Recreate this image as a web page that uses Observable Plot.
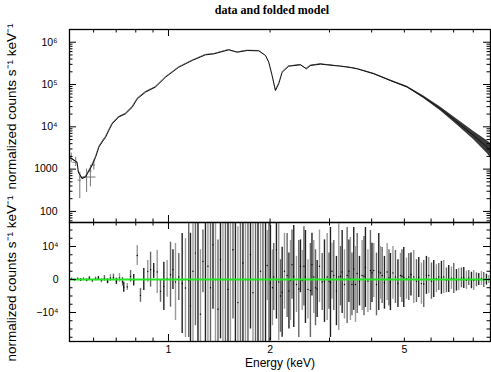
<!DOCTYPE html>
<html><head><meta charset="utf-8">
<script src="https://cdn.jsdelivr.net/npm/d3@7"></script>
<script src="https://cdn.jsdelivr.net/npm/@observablehq/plot@0.6"></script>
<style>
body{margin:0;background:#fff;}
#chart{width:491px;height:372px;position:relative;overflow:hidden;}
#chart svg{display:block;overflow:visible;}
</style></head><body><div id="chart"></div>
<script>
// ---------- data: top panel (folded spectrum) ----------
const modelE = [0.509,0.516,0.536,0.541,0.555,0.568,0.579,0.594,0.608,0.622,0.636,0.651,0.665,0.681,0.712,0.746,0.781,0.808,0.855,0.915,0.980,1.073,1.176,1.287,1.362,1.509,1.598,1.711,1.852,1.939,1.983,2.029,2.075,2.122,2.172,2.272,2.461,2.564,2.634,2.821,3.089,3.233,3.461,3.624,4.058,4.549,5.097,5.708,6.396,7.168,8.030,8.800,9.0];
const modelFlux = [1800,1780,1450,850,600,650,850,1230,1900,3300,4360,5640,8100,11700,17000,20300,29000,45700,66000,87000,149000,257000,370000,503000,530000,660000,580000,636000,626000,485000,337000,163000,72000,104000,195000,271000,292000,235000,281000,303000,281000,271000,252000,235000,179000,124000,87000,50000,26700,12900,6200,3300,2750];
// half-width of the noisy data band (dex)
const bandDex = [0.015,0.015,0.015,0.015,0.015,0.015,0.015,0.015,0.015,0.012,0.012,0.012,0.012,0.01,0.01,0.01,0.01,0.008,0.008,0.008,0.006,0.006,0.006,0.006,0.006,0.006,0.006,0.006,0.006,0.008,0.008,0.01,0.012,0.01,0.008,0.008,0.008,0.008,0.008,0.008,0.008,0.008,0.01,0.01,0.012,0.014,0.018,0.028,0.045,0.07,0.1,0.15,0.17];
// low-energy data crosses
const crossE  = [0.515,0.531,0.546,0.572,0.587,0.601];
const crossE1 = [0.509,0.521,0.540,0.545,0.580,0.594];
const crossE2 = [0.521,0.540,0.552,0.610,0.594,0.608];
const crossV  = [1800,1450,550,650,900,1250];
const crossLo = [1420,1150,200,280,380,950];
const crossHi = [2400,1900,850,1000,1230,1600];

// ---------- data: bottom panel (residual error bars) ----------
const resE = [0.516,0.527,0.538,0.549,0.560,0.572,0.583,0.595,0.608,0.620,0.633,0.646,0.660,0.673,0.687,0.701,0.716,0.731,
0.737,0.755,0.772,0.789,0.808,0.826,0.845,0.868,0.885,0.904,0.926,0.947,0.969,0.991,1.014,1.031,1.049,1.073,1.098,1.123,1.148,
1.162,1.182,1.202,1.223,1.244,1.265,1.287,1.309,1.332,1.355,1.378,1.402,1.426,1.450,1.475,1.501,1.526,1.553,1.579,1.606,1.634,1.662,1.691,1.720,1.750,1.780,1.811,1.842,1.874,1.905,1.939,
1.961,1.985,2.005,2.033,2.051,2.089,2.122,2.147,2.172,2.207,2.247,2.275,2.299,2.323,2.351,2.395,2.433,2.461,2.490,2.520,2.546,2.590,2.634,2.662,2.695,2.727,2.758,2.802,2.854,2.899,2.953,2.990,
3.020,3.051,3.089,3.146,3.196,3.233,3.271,3.323,3.384,3.426,3.461,3.497,3.540,3.582,3.624,3.681,3.749,3.796,3.834,3.900,3.967,4.009,4.058,4.134,4.199,4.248,4.297,4.365,4.446,4.501,4.547,4.626,4.705,4.786,4.869,4.919,4.980,
5.073,5.153,5.231,5.332,5.431,5.516,5.618,5.707,5.813,5.906,6.016,6.110,6.223,6.322,6.439,6.541,6.663,6.768,6.894,7.004,7.134,7.247,7.382,7.499,7.638,7.759,7.903,8.028,8.177,8.306,8.461,8.595,8.755,8.894];
const resLo = [-300,-500,-200,-600,-400,-700,-300,-900,-400,-200,-1000,-500,-1300,-600,-300,-1500,-800,-2000,
-3850,-3300,-820,-2000,4240,-6900,-3300,-820,-2330,300,-4240,-6900,-9390,-5360,-8390,-3000,-12400,-6360,-16400,-17600,-17600,
-30000,-25000,-14000,-30000,-30000,-4000,-30000,-22000,-30000,-9000,-30000,-30000,-18000,-30000,-30000,-26000,-30000,-12000,-30000,-30000,-30000,-20000,-30000,-30000,-15000,-30000,-30000,-30000,-25000,-30000,-30000,
-6360,-30000,-18480,-14000,-9390,-12000,-18480,-16000,-17480,-9000,-11500,-15000,-12420,-6000,-14540,-10000,-17570,-4000,-9390,-8000,-13330,-12000,-17570,-5000,-10300,-14000,-11500,-7000,-9390,-13000,-12420,-9000,
-17570,-6000,-9390,-14000,-15450,-8000,-10300,-12000,-13330,-7000,-12420,-11000,-9390,-13000,-10300,-8000,-9390,-11000,-8480,-10000,-9390,-7000,-5450,-11000,-9390,-6000,-7270,-9000,-6360,-8000,-9390,-6000,-7270,-8500,-5450,-7000,-8480,
-6000,-6360,-5000,-7270,-7000,-5450,-7500,-8480,-4500,-4240,-6000,-5450,-4000,-3330,-4500,-4240,-4000,-3940,-3000,-4240,-3500,-3330,-2500,-2730,-3000,-1820,-2800,-3330,-2200,-1820,-1800,-2420,-1700,-1210];
const resHi = [400,200,500,300,600,200,800,100,700,900,300,1200,200,1500,1600,400,1800,600,
-820,-1200,2700,1500,10300,-2700,3300,5760,8270,4850,8790,-300,5240,5760,11300,9000,10900,7880,13900,12400,17000,
14000,30000,30000,30000,9000,15000,30000,30000,25000,30000,30000,12000,30000,30000,30000,20000,30000,30000,30000,16000,30000,30000,30000,30000,30000,22000,30000,30000,30000,30000,30000,
14850,30000,16360,9000,10910,30000,16970,6000,9790,14000,13940,8000,11820,15000,16360,7000,11820,12000,8790,16000,14850,6000,10910,14000,11820,9000,5760,15000,7880,12000,13940,8000,
15760,11000,11820,7000,16970,10000,14850,9000,15760,12000,12730,8000,15760,10000,13940,7000,11820,13000,15760,9000,14850,11000,10910,8000,13940,10000,9700,7000,10910,9000,7880,10000,8790,6000,7880,9000,9700,
6500,7880,8000,8790,6000,6670,5000,5760,7000,6670,5000,5760,4500,4850,5500,5760,3500,4240,3800,4850,3000,3330,3500,3640,2500,2730,2200,2730,2000,1820,2400,2120,1600,1210];

// ---------- axes / ticks ----------
const xDomain = [0.509, 9.0];
const xMajor = [1];
const xMinor = [0.6,0.7,0.8,0.9,2,3,4,5,6,7,8,9];
const xLabels = [1,2,5];
const yTopDomain = [54.7, 2.0e6];
const yTopMajor = [100,1000,1e4,1e5,1e6];
const yTopMinor = [60,70,80,90,200,300,400,500,600,700,800,900,2000,3000,4000,5000,6000,7000,8000,9000,2e4,3e4,4e4,5e4,6e4,7e4,8e4,9e4,2e5,3e5,4e5,5e5,6e5,7e5,8e5,9e5,2e6];
const yBotDomain = [-18790, 17270];
const yBotMajor = [-1e4,0,1e4];
const yBotMinor = [-17500,-15000,-12500,-7500,-5000,-2500,2500,5000,7500,12500,15000];

const title = "data and folded model";
const yLabel = "normalized counts s\u207B\u00B9 keV\u207B\u00B9";
const xLabel = "Energy (keV)";

// ---------- layout ----------
const W = 491, ML = 69, MR = 1;
const topH = 222, topMT = 29;
const botH = 150, botMB = 31;
const FW = W - ML - MR, FH1 = topH - topMT, FH2 = botH - botMB;
const MAJ = 7, MIN = 3.5;
const font = "'Liberation Sans', Arial, Helvetica, sans-serif";

function edgeTicks(xs, ys, fh) {
  const m = [];
  const add = (arr, len) => {
    m.push(Plot.tickX(arr, {x: d => d, insetBottom: fh - len, stroke: "#000", strokeWidth: 1}));
    m.push(Plot.tickX(arr, {x: d => d, insetTop: fh - len, stroke: "#000", strokeWidth: 1}));
  };
  add(xs[0], MAJ); add(xs[1], MIN);
  const addY = (arr, len) => {
    m.push(Plot.tickY(arr, {y: d => d, insetRight: FW - len, stroke: "#000", strokeWidth: 1}));
    m.push(Plot.tickY(arr, {y: d => d, insetLeft: FW - len, stroke: "#000", strokeWidth: 1}));
  };
  addY(ys[0], MAJ); addY(ys[1], MIN);
  return m;
}

const sup = {"4":"\u2074","5":"\u2075","6":"\u2076"};
const fmtTop = d => d >= 1e4 ? "10" + sup[String(Math.round(Math.log10(d)))] : String(d);
const fmtBot = d => d === 0 ? "0" : (d < 0 ? "\u221210\u2074" : "10\u2074");

const band = modelE.map((e, i) => ({e, lo: modelFlux[i] / 10 ** bandDex[i], hi: modelFlux[i] * 10 ** bandDex[i]}));
const model = modelE.map((e, i) => ({e, v: modelFlux[i]}));
const crosses = crossE.map((e, i) => ({e, e1: crossE1[i], e2: crossE2[i], v: crossV[i], lo: crossLo[i], hi: crossHi[i]}));
const res = resE.map((e, i) => ({e, lo: resLo[i], hi: resHi[i], mid: (resLo[i] + resHi[i]) / 2, shade: i % 3 === 1 ? "#9a9a9a" : (i % 3 === 2 ? "#666" : "#222")}));

const topPlot = Plot.plot({
  width: W, height: topH, marginTop: topMT, marginBottom: 0, marginLeft: ML, marginRight: MR,
  style: {fontFamily: font, fontSize: "10px", color: "#000", background: "transparent", overflow: "visible"},
  x: {type: "log", domain: xDomain, axis: null},
  y: {type: "log", domain: yTopDomain, axis: null},
  marks: [
    Plot.areaY(band, {x: "e", y1: "lo", y2: "hi", fill: "#3a3a3a", clip: true}),
    Plot.ruleY(crosses, {y: "v", x1: "e1", x2: "e2", stroke: "#777", strokeWidth: 1, clip: true}),
    Plot.ruleX(crosses, {x: "e", y1: "lo", y2: "hi", stroke: "#777", strokeWidth: 1, clip: true}),
    Plot.line(model, {x: "e", y: "v", stroke: "#111", strokeWidth: 1, clip: true}),
    ...edgeTicks([xMajor, xMinor], [yTopMajor, yTopMinor], FH1),
    Plot.frame({stroke: "#000", strokeWidth: 1.3}),
    Plot.text(yTopMajor, {x: null, y: d => d, text: fmtTop, frameAnchor: "left", dx: -12, textAnchor: "end", fontSize: 10.5}),
    Plot.text([title], {text: d => d, frameAnchor: "top", dy: -19, dx: -8, lineAnchor: "middle", fontFamily: "'Liberation Serif', 'Times New Roman', serif", fontWeight: "bold", fontSize: 12}),
    Plot.text([yLabel], {text: d => d, frameAnchor: "left", dx: -58, dy: -19.5, rotate: -90, fontSize: 13.5, textAnchor: "middle", lineAnchor: "middle"})
  ]
});

const botPlot = Plot.plot({
  width: W, height: botH, marginTop: 0, marginBottom: botMB, marginLeft: ML, marginRight: MR,
  style: {fontFamily: font, fontSize: "10px", color: "#000", background: "transparent", overflow: "visible"},
  x: {type: "log", domain: xDomain, axis: null},
  y: {domain: yBotDomain, axis: null},
  marks: [
    Plot.ruleX(res, {x: "e", y1: "lo", y2: "hi", stroke: "shade", strokeWidth: 1.4, clip: true}),
    Plot.dot(res, {x: "e", y: "mid", r: 0.7, fill: "#000", stroke: null, clip: true}),
    Plot.ruleY([0], {stroke: "#22e622", strokeWidth: 2}),
    ...edgeTicks([xMajor, xMinor], [yBotMajor, yBotMinor], FH2),
    Plot.frame({stroke: "#000", strokeWidth: 1.3}),
    Plot.text(yBotMajor, {x: null, y: d => d, text: fmtBot, frameAnchor: "left", dx: -11, textAnchor: "end", fontSize: 10.5}),
    Plot.text(xLabels, {x: d => d, y: null, text: d => String(d), frameAnchor: "bottom", dy: 8, lineAnchor: "middle", fontSize: 10.5}),
    Plot.text([xLabel], {text: d => d, frameAnchor: "bottom", dy: 22, fontSize: 12, lineAnchor: "middle"}),
    Plot.text([yLabel], {text: d => d, frameAnchor: "left", dx: -58, dy: -3.5, rotate: -90, fontSize: 13.5, textAnchor: "middle", lineAnchor: "middle"})
  ]
});

const root = document.getElementById("chart");
root.appendChild(topPlot);
root.appendChild(botPlot);
</script>
</body></html>
